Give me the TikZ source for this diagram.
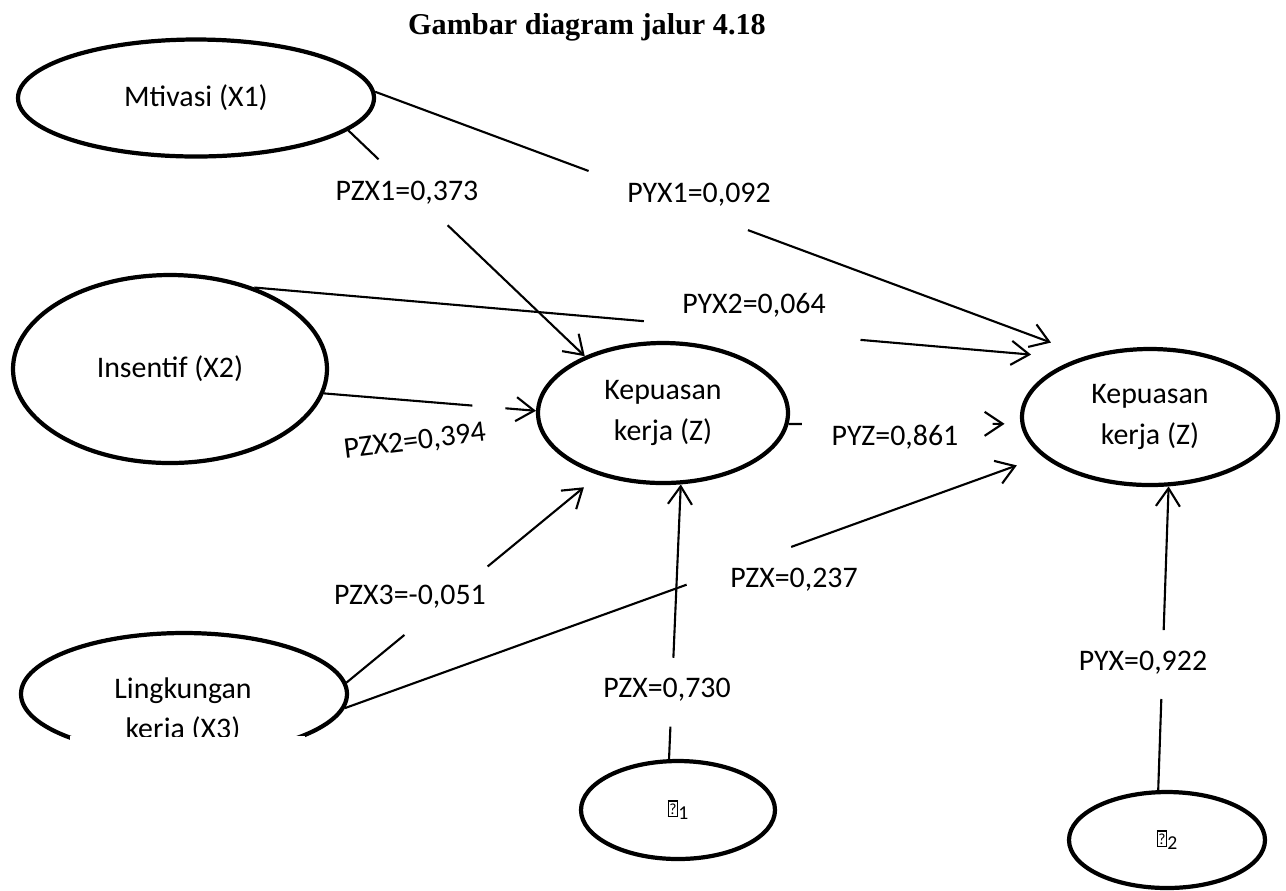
\documentclass[tikz,border=0pt]{standalone}
\usepackage{fontspec}
\setmainfont{Carlito}
\newfontfamily\titlefont{Liberation Serif}
\usepackage{tikz}
\usetikzlibrary{shapes.geometric,arrows.meta}

% box that stands for the missing glyph
\newcommand{\nochar}[1]{{\setlength{\fboxsep}{0pt}\setlength{\fboxrule}{0.35pt}%
  \fbox{\makebox[2.3pt][c]{\rule[-0.3pt]{0pt}{4.1pt}\fontsize{4.4}{5}\selectfont ?}}%
  \raisebox{-1.4pt}{\fontsize{5.6}{6}\selectfont #1}}}

\begin{document}
\begin{tikzpicture}[x=0.1mm,y=-0.1mm,>={Straight Barb[length=1.8mm,width=2.4mm]},
  latent/.style={draw,ellipse,line width=1.2pt,inner sep=0pt,align=center,
    font=\fontsize{8.5}{11.6}\selectfont},
  link/.style={line width=0.6pt},
  coef/.style={font=\fontsize{8.5}{10}\selectfont,inner sep=0pt}]
  \useasboundingbox (0,0) rectangle (1286,890);
  %
  % Title
  \node[font=\titlefont\bfseries\fontsize{8.6}{10}\selectfont] (title) at (587,27)
    {Gambar diagram jalur 4.18};
  %
  % Variables
  \node[latent,minimum width=35.6mm,minimum height=11.7mm] (x1) at (196,98) {Mtivasi (X1)};
  \node[latent,minimum width=31.4mm,minimum height=18.8mm] (x2) at (170,369) {Insentif (X2)};
  \node[latent,minimum width=32.6mm,minimum height=12.2mm] (x3) at (184,694) {};
  \node[latent,minimum width=25mm,minimum height=14mm] (z) at (663,413) {Kepuasan\\kerja (Z)};
  \node[latent,minimum width=25.6mm,minimum height=13.6mm] (y) at (1150,417) {Kepuasan\\kerja (Z)};
  \node[latent,minimum width=19.4mm,minimum height=9.8mm] (e1) at (678,810) {\nochar{1}};
  \node[latent,minimum width=19.6mm,minimum height=9.6mm] (e2) at (1167,840) {\nochar{2}};
  % text box of X3, cut at its lower edge
  \fill[white] (70,736) rectangle (305,762);
  \begin{scope}
    \clip (40,650) rectangle (330,736);
    \node[align=center,font=\fontsize{8.5}{11.4}\selectfont] (x3txt) at (183,711)
      {Lingkungan\\kerja (X3)};
  \end{scope}
  %
  % Paths to Z
  \path (x1.-12) -- (z.144) coordinate[pos=.128] (a1) coordinate[pos=.42] (b1);
  \draw[link] (x1.-12) -- (a1);
  \draw[link,->] (b1) -- (z.144);
  \path (x2.-9) -- (z.179) coordinate[pos=.70] (a2) coordinate[pos=.856] (b2);
  \draw[link] (x2.-9) -- (a2);
  \draw[link,->] (b2) -- (z.179);
  \path (x3.4) -- (z.224) coordinate[pos=.23] (a3) coordinate[pos=.56] (b3);
  \draw[link] (x3.4) -- (a3);
  \draw[link,->,shorten >=1.9mm] (b3) -- (z.224);
  \path (e1.100) -- (z.284) coordinate[pos=.118] (a4) coordinate[pos=.369] (b4);
  \draw[link] (e1.100) -- (a4);
  \draw[link,->] (b4) -- (z.284);
  %
  % Paths to Y
  \path (x1.2) -- (y.136) coordinate[pos=.30] (a5) coordinate[pos=.524] (b5);
  \draw[link] (x1.2) -- (a5);
  \draw[link,->,shorten >=3.8mm] (b5) -- (y.136);
  \path (x2.44) -- (y.141) coordinate[pos=.473] (a6) coordinate[pos=.736] (b6);
  \draw[link] (x2.44) -- (a6);
  \draw[link,->,shorten >=4.7mm] (b6) -- (y.141);
  \path (z.-5) -- (y.183) coordinate[pos=.057] (a7) coordinate[pos=.88] (b7);
  \draw[link] (z.-5) -- (a7);
  \draw[link,->,shorten >=1.6mm] (b7) -- (y.183);
  \path (x3.-5) -- (y.200) coordinate[pos=.49] (a8) coordinate[pos=.64] (b8);
  \draw[link] (x3.-5) -- (a8);
  \draw[link,->,shorten >=2.7mm] (b8) -- (y.200);
  \path (e2.100) -- (y.285) coordinate[pos=.30] (a9) coordinate[pos=.527] (b9);
  \draw[link] (e2.100) -- (a9);
  \draw[link,->] (b9) -- (y.285);
  %
  % Coefficients
  \node[coef] (pzx1) at (407,193) {PZX1=0,373};
  \node[coef] (pyx1) at (699,195) {PYX1=0,092};
  \node[coef] (pyx2) at (754,305) {PYX2=0,064};
  \node[coef,rotate=7] (pzx2) at (415,442) {PZX2=0,394};
  \node[coef] (pyz) at (895,437) {PYZ=0,861};
  \node[coef] (pzx3) at (410,597) {PZX3=-0,051};
  \node[coef] (pzx) at (794,580) {PZX=0,237};
  \node[coef] (pzxe) at (667,690) {PZX=0,730};
  \node[coef] (pyxe) at (1143,663) {PYX=0,922};
  %
\end{tikzpicture}
\end{document}
